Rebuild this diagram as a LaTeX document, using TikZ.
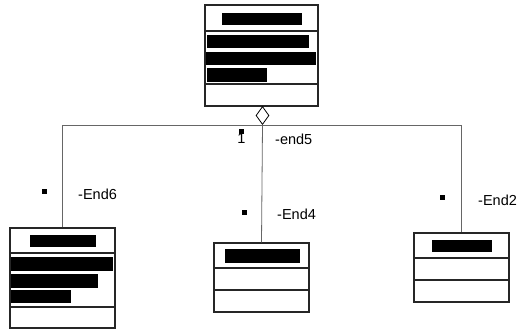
\documentclass[tikz,border=0pt]{standalone}
\usepackage{fontspec}
\setmainfont{Liberation Sans}
\usetikzlibrary{shapes.geometric}
\begin{document}
\begin{tikzpicture}[x=1pt,y=-1pt,
  cls/.style={draw=black!85, line width=1.1pt, inner sep=0pt},
  sep/.style={draw=black!85, line width=1.1pt},
  bar/.style={fill=black, draw=none},
  conn/.style={draw=black!60, line width=0.8pt},
  mult/.style={fill=black, draw=none, inner sep=0pt, minimum size=5pt},
  role/.style={inner sep=0pt, anchor=west, font=\fontsize{14.5}{15}\selectfont}]
\useasboundingbox (0,0) rectangle (517,329);

% classes
\node[cls, minimum width=113pt, minimum height=101pt] (top) at (261.5,55.5) {};
\node[cls, minimum width=105pt, minimum height=100pt] (left) at (62.5,278) {};
\node[cls, minimum width=95pt, minimum height=69pt] (mid) at (261.5,277.5) {};
\node[cls, minimum width=95pt, minimum height=69pt] (right) at (461.5,267.5) {};

% compartments
\draw[sep] (205,31) -- (318,31) (205,84) -- (318,84);
\draw[sep] (10,253) -- (115,253) (10,307) -- (115,307);
\draw[sep] (214,268) -- (309,268) (214,290) -- (309,290);
\draw[sep] (414,258) -- (509,258) (414,280) -- (509,280);

% masked names and attributes
\fill[bar] (222,13) rectangle (302,25);
\fill[bar] (207,35) rectangle (309,48);
\fill[bar] (206,52) rectangle (316,65);
\fill[bar] (207,68) rectangle (267,82);
\fill[bar] (30,235) rectangle (96,247);
\fill[bar] (11,257) rectangle (113,271);
\fill[bar] (11,274) rectangle (98,288);
\fill[bar] (11,290) rectangle (71,303);
\fill[bar] (225,249) rectangle (300,263);
\fill[bar] (432,240) rectangle (492,252);

% aggregation diamond and connectors
\node[diamond, draw=black, line width=0.8pt, fill=white, inner sep=0pt, aspect=0.72,
      minimum width=13pt, minimum height=18pt] (agg) at (262.5,115.5) {};
\draw[conn] (left.north) |- (agg.south) -| (right.north);
\draw[conn] (agg.south) -- (mid.north);

% multiplicities and role names
\node[mult] (m5) at (241,131) {};
\node[role, anchor=center] (one) at (241.5,139) {1};
\node[role] (r5) at (275,139) {-end5};
\node[mult] (m6) at (44,191) {};
\node[role] (r6) at (78,194) {-End6};
\node[mult] (m4) at (244,212) {};
\node[role] (r4) at (277,214) {-End4};
\node[mult] (m2) at (442,197) {};
\node[role] (r2) at (478,200) {-End2};
\end{tikzpicture}
\end{document}
